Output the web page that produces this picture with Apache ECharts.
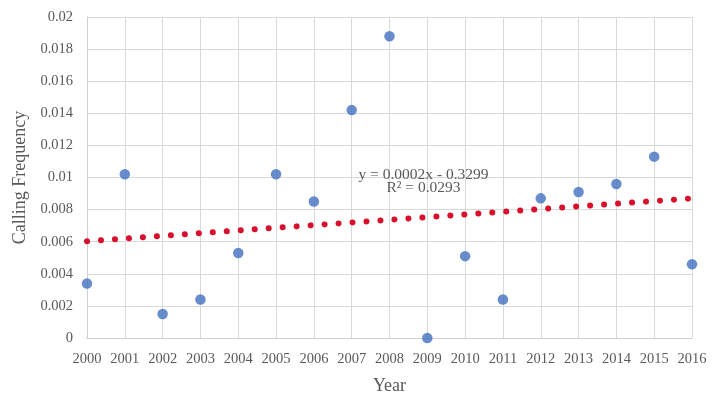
<!DOCTYPE html>
<html>
<head>
<meta charset="utf-8">
<script src="https://cdn.jsdelivr.net/npm/echarts@6/dist/echarts.min.js"></script>
<style>html,body{margin:0;padding:0;background:#fff}#c{width:712px;height:394px}</style>
</head>
<body>
<div id="c"></div>
<script>
const years = [2000,2001,2002,2003,2004,2005,2006,2007,2008,2009,2010,2011,2012,2013,2014,2015,2016];
const frequency = [0.0034,0.0102,0.0015,0.0024,0.0053,0.0102,0.0085,0.0142,0.0188,0.0000,0.0051,0.0024,0.0087,0.0091,0.0096,0.0113,0.0046];
const trendYears = [2000, 2016];
const trendValues = [0.00603, 0.00870];
const equationLines = ['y = 0.0002x - 0.3299', 'R² = 0.0293'];
const equationAnchor = [2008.9, 0.00975];

const serif = "'Liberation Serif','DejaVu Serif',serif";
const gray = '#595959';
const chart = echarts.init(document.getElementById('c'));
chart.setOption({
  animation: false,
  backgroundColor: '#fff',
  grid: { left: 87, right: 20, top: 17, bottom: 56, containLabel: false, outerBoundsMode: 'none' },
  xAxis: {
    type: 'value', min: 2000, max: 2016, interval: 1,
    name: 'Year', nameLocation: 'middle', nameGap: 39,
    nameTextStyle: { fontFamily: serif, fontSize: 18, color: gray },
    axisLine: { show: true, lineStyle: { color: '#d0d0d0' } },
    axisTick: { show: false },
    axisLabel: { formatter: v => String(v), fontFamily: serif, fontSize: 14.5, color: gray, margin: 14 },
    splitLine: { show: true, lineStyle: { color: '#d9d9d9' } }
  },
  yAxis: {
    type: 'value', min: 0, max: 0.02, interval: 0.002,
    name: 'Calling Frequency', nameLocation: 'middle', nameGap: 58, nameRotate: 90,
    nameTextStyle: { fontFamily: serif, fontSize: 18, color: gray },
    axisLine: { show: true, lineStyle: { color: '#d0d0d0' } },
    axisTick: { show: false },
    axisLabel: { formatter: v => String(Number(v.toFixed(3))), fontFamily: serif, fontSize: 14.5, color: gray, margin: 14 },
    splitLine: { show: true, lineStyle: { color: '#d9d9d9' } }
  },
  series: [
    {
      type: 'line',
      data: trendYears.map((y, i) => [y, trendValues[i]]),
      symbol: 'none',
      lineStyle: { color: '#d8102c', width: 6, type: [0.01, 14], cap: 'round' },
      z: 2
    },
    {
      type: 'scatter',
      data: years.map((y, i) => [y, frequency[i]]),
      symbolSize: 10.5,
      itemStyle: { color: '#4170c0' },
      z: 3
    }
  ]
});
const p = chart.convertToPixel({ gridIndex: 0 }, equationAnchor);
chart.setOption({
  graphic: [{
    type: 'text', x: p[0], y: p[1],
    style: {
      text: equationLines.join('\n'), fontFamily: serif, fontSize: 15.5, fill: gray,
      align: 'center', verticalAlign: 'middle', lineHeight: 13
    }
  }]
});
</script>
</body>
</html>
